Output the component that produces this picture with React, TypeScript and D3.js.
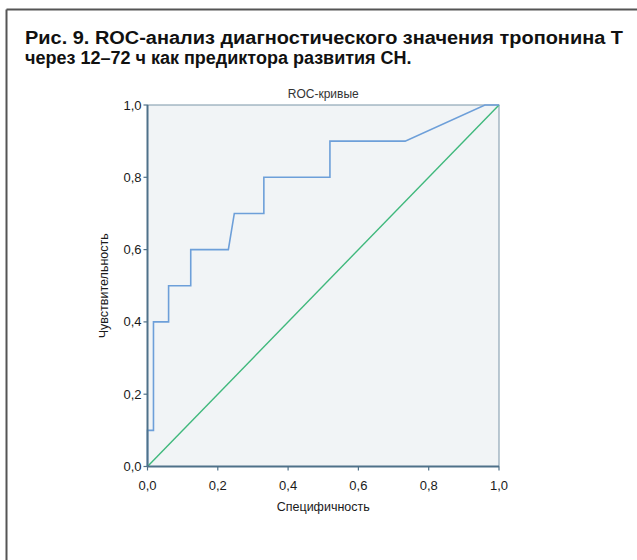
import React from "react";
import * as d3 from "d3";

// ROC curve: specificity axis (1 - specificity in fact) vs sensitivity
const rocX = [0, 0, 0.017, 0.017, 0.06, 0.06, 0.123, 0.123, 0.23, 0.247, 0.331, 0.331, 0.519, 0.519, 0.733, 0.96, 1];
const rocY = [0, 0.1, 0.1, 0.4, 0.4, 0.5, 0.5, 0.6, 0.6, 0.7, 0.7, 0.8, 0.8, 0.9, 0.9, 1, 1];
const refX = [0, 1];
const refY = [0, 1];
const ticks = [0, 0.2, 0.4, 0.6, 0.8, 1.0];

const titleLines = [
  "Рис. 9. ROC-анализ диагностического значения тропонина Т",
  "через 12–72 ч как предиктора развития СН.",
];
const chartTitle = "ROC-кривые";
const xTitle = "Специфичность";
const yTitle = "Чувствительность";

const W = 637;
const H = 560;
const plot = { left: 147.5, right: 499, top: 105, bottom: 466.5 };

const fmt = (v: number) => v.toFixed(1).replace(".", ",");

export default function App() {
  const x = d3.scaleLinear().domain([0, 1]).range([plot.left, plot.right]);
  const y = d3.scaleLinear().domain([0, 1]).range([plot.bottom, plot.top]);
  const line = d3
    .line<number>()
    .x((_, i) => x(rocX[i]))
    .y((_, i) => y(rocY[i]));
  const refLine = d3
    .line<number>()
    .x((_, i) => x(refX[i]))
    .y((_, i) => y(refY[i]));

  const axisColor = "#4f7189";
  const font = "'Liberation Sans', Arial, Helvetica, sans-serif";

  return (
    <svg
      width={W}
      height={H}
      style={{ position: "absolute", left: 0, top: 0, background: "#fff" }}
      fontFamily={font}
    >
      {/* frame */}
      <line x1={6.5} y1={9.5} x2={W} y2={9.5} stroke="#555" strokeWidth={2} />
      <line x1={6.5} y1={9.5} x2={6.5} y2={H} stroke="#555" strokeWidth={2} />

      {titleLines.map((t, i) => (
        <text
          key={i}
          x={25}
          y={44 + i * 20.3}
          fontSize={18}
          fontWeight="bold"
          fill="#111"
          textLength={i === 0 ? 598 : undefined}
          lengthAdjust="spacingAndGlyphs"
        >
          {t}
        </text>
      ))}

      <text x={(plot.left + plot.right) / 2} y={98} fontSize={12} fill="#333" textAnchor="middle">
        {chartTitle}
      </text>

      {/* plot area */}
      <rect
        x={plot.left}
        y={plot.top}
        width={plot.right - plot.left}
        height={plot.bottom - plot.top}
        fill="#f1f4f6"
        stroke="#7a95a8"
        strokeWidth={1}
      />

      <path d={refLine(refX) || ""} fill="none" stroke="#3fb87c" strokeWidth={1.4} />
      <path d={line(rocX) || ""} fill="none" stroke="#6d9fd9" strokeWidth={1.6} />

      {/* axes */}
      <line x1={plot.left} y1={plot.top} x2={plot.left} y2={plot.bottom} stroke={axisColor} strokeWidth={2} />
      <line x1={plot.left} y1={plot.bottom} x2={plot.right} y2={plot.bottom} stroke={axisColor} strokeWidth={2} />

      {ticks.map((t) => (
        <g key={"y" + t}>
          <line x1={plot.left - 4} x2={plot.left} y1={y(t)} y2={y(t)} stroke={axisColor} strokeWidth={1.2} />
          <text x={plot.left - 6} y={y(t) + 4.5} fontSize={13} fill="#1a1a1a" textAnchor="end">
            {fmt(t)}
          </text>
        </g>
      ))}
      {ticks.map((t) => (
        <g key={"x" + t}>
          <line x1={x(t)} x2={x(t)} y1={plot.bottom} y2={plot.bottom + 4} stroke={axisColor} strokeWidth={1.2} />
          <text x={x(t)} y={490} fontSize={13} fill="#1a1a1a" textAnchor="middle">
            {fmt(t)}
          </text>
        </g>
      ))}

      <text x={(plot.left + plot.right) / 2} y={511} fontSize={12.5} fill="#1a1a1a" textAnchor="middle">
        {xTitle}
      </text>
      <text
        transform={`translate(108, ${(plot.top + plot.bottom) / 2}) rotate(-90)`}
        fontSize={12.5}
        fill="#1a1a1a"
        textAnchor="middle"
      >
        {yTitle}
      </text>
    </svg>
  );
}
